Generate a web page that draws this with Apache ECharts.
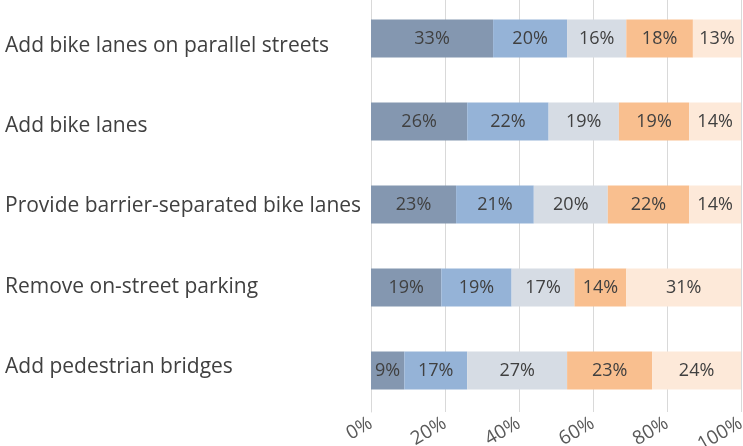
<!DOCTYPE html>
<html>
<head>
<meta charset="utf-8">
<script src="https://cdn.jsdelivr.net/npm/echarts@6/dist/echarts.min.js"></script>
<style>
  html, body { margin: 0; padding: 0; background: #fff; }
</style>
</head>
<body>
<div id="main" style="width: 743px; height: 446px"></div>
<script>
// categories top -> bottom
var categories = [
  "Add bike lanes on parallel streets",
  "Add bike lanes",
  "Provide barrier-separated bike lanes",
  "Remove on-street parking",
  "Add pedestrian bridges"
];
// share of answers per group, left -> right segments
var seg1 = [33, 26, 23, 19, 9];
var seg2 = [20, 22, 21, 19, 17];
var seg3 = [16, 19, 20, 17, 27];
var seg4 = [18, 19, 22, 14, 23];
var seg5 = [13, 14, 14, 31, 24];
var xTicks = [0, 20, 40, 60, 80, 100];

var colors = ["#8497B0", "#95B3D7", "#D6DCE4", "#F9BF8F", "#FDE9D9"];
var font = "'Open Sans', sans-serif";

function makeSeries(data, i) {
  return {
    type: "bar",
    stack: "total",
    barWidth: 38,
    data: data,
    itemStyle: { color: colors[i] },
    label: {
      show: true,
      position: "inside",
      formatter: "{c}%",
      color: "#404040",
      fontSize: 18,
      fontFamily: font
    },
    emphasis: { disabled: true }
  };
}

var chartDom = document.getElementById("main");
var myChart = echarts.init(chartDom);
var option = {
  animation: false,
  grid: [
    // bars
    { left: 371, right: 2, top: -3, height: 415, containLabel: false, outerBoundsMode: "none" },
    // category names sit on a slightly tighter pitch than the bars
    { left: 371, right: 2, top: 6, height: 401, containLabel: false, outerBoundsMode: "none" }
  ],
  xAxis: [
    {
      type: "value",
      gridIndex: 0,
      min: xTicks[0],
      max: xTicks[xTicks.length - 1],
      interval: 20,
      axisLine: { show: false },
      axisTick: { show: false },
      splitLine: { show: true, lineStyle: { color: "#D9D9D9", width: 1 } },
      axisLabel: {
        rotate: 30,
        margin: 10,
        formatter: "{value}%",
        color: "#595959",
        fontSize: 19,
        fontFamily: font
      }
    },
    { type: "value", gridIndex: 1, show: false }
  ],
  yAxis: [
    {
      type: "category",
      gridIndex: 0,
      inverse: true,
      data: categories,
      axisLine: { show: true, lineStyle: { color: "#D9D9D9" } },
      axisTick: { show: false },
      axisLabel: { show: false }
    },
    {
      type: "category",
      gridIndex: 1,
      inverse: true,
      data: categories,
      axisLine: { show: false },
      axisTick: { show: false },
      splitLine: { show: false },
      axisLabel: {
        align: "left",
        margin: 366,
        color: "#404040",
        fontSize: 21,
        fontFamily: font
      }
    }
  ],
  series: [seg1, seg2, seg3, seg4, seg5].map(makeSeries)
};

option && myChart.setOption(option);
</script>
</body>
</html>
